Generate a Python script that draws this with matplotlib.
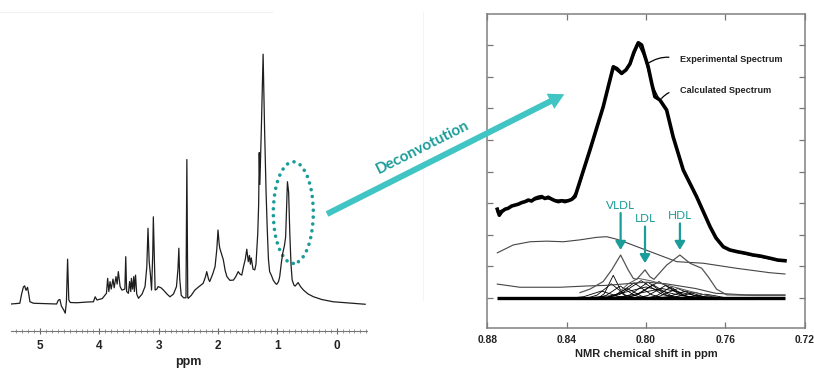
import matplotlib
matplotlib.use("Agg")
import matplotlib.pyplot as plt
from matplotlib.patches import Ellipse, FancyArrow

# ---------------- data: left 1H NMR spectrum (ppm, intensity) ----------------
LEFT_PPM = [5.49, 5.34, 5.31, 5.28, 5.26, 5.235, 5.21, 5.19, 5.17, 5.11, 4.72, 4.69, 4.665,
            4.64, 4.60, 4.575, 4.555, 4.535, 4.515, 4.49, 4.38, 4.20, 4.10, 4.07, 4.04, 3.95,
            3.88, 3.86, 3.84, 3.82, 3.80, 3.77, 3.75, 3.72, 3.70, 3.68, 3.65, 3.62, 3.57, 3.555,
            3.54, 3.51, 3.49, 3.47, 3.46, 3.44, 3.42, 3.41, 3.39, 3.37, 3.34, 3.28, 3.23, 3.20,
            3.18, 3.16, 3.14, 3.12, 3.10, 3.09, 3.075, 3.06, 3.03, 3.01, 2.96, 2.92, 2.86, 2.81,
            2.75, 2.70, 2.675, 2.66, 2.645, 2.62, 2.58, 2.54, 2.525, 2.51, 2.50, 2.45, 2.39,
            2.32, 2.25, 2.21, 2.19, 2.16, 2.14, 2.09, 2.05, 2.02, 2.00, 1.98, 1.97, 1.94, 1.91,
            1.88, 1.85, 1.80, 1.74, 1.70, 1.66, 1.63, 1.60, 1.57, 1.54, 1.515, 1.49, 1.47, 1.455,
            1.44, 1.41, 1.38, 1.36, 1.33, 1.315, 1.305, 1.295, 1.27, 1.24, 1.215, 1.19, 1.17,
            1.15, 1.13, 1.10, 1.07, 1.03, 1.01, 0.98, 0.96, 0.93, 0.91, 0.88, 0.86, 0.845, 0.83,
            0.81, 0.79, 0.77, 0.75, 0.72, 0.70, 0.67, 0.65, 0.61, 0.56, 0.48, 0.39, 0.25, 0.06,
            -0.20, -0.48]
LEFT_INT = [0.0, 0.3, 4.0, 6.8, 7.3, 5.5, 6.7, 4.0, 0.9, 0.3, 0.0, 1.6, 1.8,
            -0.8, -2.4, -3.7, 0.9, 18.0, 1.6, 0.6, 0.5, 0.8, 0.9, 2.9, 1.6, 2.2,
            4.3, 10.3, 5.0, 9.0, 6.0, 10.0, 6.5, 11.0, 8.0, 13.0, 7.0, 5.6, 6.0, 19.0,
            5.0, 4.3, 9.0, 5.0, 10.3, 6.0, 11.0, 5.0, 11.6, 4.0, 2.3, 4.0, 7.0, 15.0,
            30.4, 17.0, 12.0, 5.6, 20.0, 35.0, 20.0, 5.6, 6.0, 7.0, 6.5, 5.6, 4.0, 2.9,
            4.0, 7.0, 14.0, 22.4, 10.0, 3.5, 2.5, 2.5, 58.0, 2.5, 2.3, 3.5, 5.6,
            7.0, 8.3, 11.0, 13.0, 10.0, 9.0, 12.0, 15.0, 22.0, 29.7, 24.0, 22.4, 20.0, 17.7,
            13.5, 11.0, 9.5, 9.6, 11.0, 13.0, 12.0, 11.6, 15.0, 18.0, 22.0, 17.0, 19.5, 16.0,
            18.5, 14.0, 13.7, 16.0, 28.4, 40.0, 60.8, 48.0, 70.0, 100.3, 70.0, 45.0, 30.0,
            18.0, 13.0, 11.5, 9.6, 8.2, 7.9, 9.0, 11.0, 17.0, 20.3, 23.5, 27.0, 38.0, 49.1,
            45.0, 28.4, 16.0, 9.6, 7.6, 7.2, 8.0, 8.6, 7.0, 5.6, 4.0, 2.9, 1.8, 0.9,
            0.4, -0.1]
LEFT_TICKS = [5, 4, 3, 2, 1, 0]

# ---------------- data: right deconvolution panel ----------------
EXP_X = [0.8750, 0.8740, 0.8728, 0.8711, 0.8695, 0.8678, 0.8661, 0.8644, 0.8627, 0.8610,
         0.8594, 0.8577, 0.8560, 0.8543, 0.8526, 0.8510, 0.8493, 0.8476, 0.8459, 0.8442,
         0.8425, 0.8409, 0.8392, 0.8375, 0.8358, 0.8342, 0.8283, 0.8216, 0.8192, 0.8165,
         0.8146, 0.8123, 0.8101, 0.8081, 0.8061, 0.8039, 0.8022, 0.8005, 0.7989, 0.7971,
         0.7955, 0.7930, 0.7913, 0.7896, 0.7863, 0.7812, 0.7745, 0.7677, 0.7647, 0.7610,
         0.7577, 0.7543, 0.7501, 0.7459, 0.7425, 0.7375, 0.7335, 0.7299]
EXP_Y = [2.81, 2.62, 2.73, 2.81, 2.84, 2.91, 2.94, 2.97, 3.02, 3.05,
         3.10, 3.07, 3.15, 3.19, 3.21, 3.15, 3.19, 3.13, 3.08, 3.05,
         3.08, 3.05, 3.08, 3.12, 3.21, 3.52, 4.68, 6.05, 6.65, 7.32,
         7.26, 7.11, 7.22, 7.41, 7.78, 8.08, 8.01, 7.64, 7.32, 6.79,
         6.37, 6.27, 6.11, 5.95, 5.10, 4.05, 3.21, 2.26, 1.90, 1.62,
         1.52, 1.47, 1.42, 1.36, 1.33, 1.26, 1.20, 1.18]
CALC_X = [0.875, 0.868, 0.860, 0.852, 0.845, 0.838, 0.8342, 0.8283, 0.8216, 0.8165, 0.8123,
          0.8081, 0.8039, 0.8005, 0.7971, 0.7930, 0.7896, 0.7863, 0.7812, 0.7745, 0.7677,
          0.7610, 0.7543, 0.7459, 0.7375, 0.7299]
CALC_Y = [2.72, 2.90, 3.05, 3.16, 3.10, 3.10, 3.45, 4.66, 6.04, 7.28, 7.08,
          7.38, 8.04, 7.60, 6.76, 6.24, 5.92, 5.08, 4.03, 3.19, 2.24,
          1.60, 1.45, 1.34, 1.24, 1.16]
BROAD_X = [0.8750, 0.8669, 0.8585, 0.8501, 0.8417, 0.8333, 0.8249, 0.8198, 0.8148, 0.8098,
           0.7980, 0.7845, 0.7711, 0.7543, 0.7375, 0.7299]
BROAD_Y = [1.43, 1.68, 1.78, 1.80, 1.78, 1.84, 1.92, 1.94, 1.86, 1.75,
           1.47, 1.15, 1.10, 0.94, 0.80, 0.76]
LOW_X = [0.8750, 0.8636, 0.8434, 0.8299, 0.820, 0.810, 0.800, 0.790, 0.775, 0.765, 0.750, 0.7299]
LOW_Y = [0.44, 0.34, 0.34, 0.38, 0.40, 0.45, 0.50, 0.45, 0.30, 0.15, 0.10, 0.10]
LIPO_X = [0.8333, 0.8283, 0.8216, 0.8173, 0.8128, 0.8090, 0.8064, 0.8047, 0.8005, 0.7980,
          0.7960, 0.7896, 0.7829, 0.7778, 0.7719, 0.7686, 0.7644, 0.7593, 0.7450, 0.7299]
LIPO_Y = [0.17, 0.28, 0.52, 0.89, 1.36, 0.89, 0.62, 0.59, 0.89, 0.67,
          0.59, 1.04, 1.36, 1.10, 0.94, 0.67, 0.28, 0.10, 0.08, 0.08]
TAIL_X = [0.8133, 0.809, 0.804, 0.798, 0.792, 0.786, 0.780, 0.772, 0.765]
TAIL_Y = [0.20, 0.45, 0.62, 0.55, 0.45, 0.35, 0.25, 0.12, 0.05]
BASE_X = [0.8750, 0.7299]
BASE_Y = [0.0, 0.0]
COMP_X = [
    [.8090, .8120, .8140, .8165, .8190, .8210, .8240],
    [.8055, .8103, .8135, .8175, .8215, .8247, .8295],
    [.8010, .8058, .8090, .8130, .8170, .8202, .8250],
    [.7975, .8023, .8055, .8095, .8135, .8167, .8215],
    [.7910, .7970, .8010, .8060, .8110, .8150, .8210],
    [.7845, .7917, .7965, .8025, .8085, .8133, .8205],
    [.7840, .7900, .7940, .7990, .8040, .8080, .8140],
    [.7815, .7875, .7915, .7965, .8015, .8055, .8115],
    [.7755, .7827, .7875, .7935, .7995, .8043, .8115],
    [.7750, .7810, .7850, .7900, .7950, .7990, .8050],
    [.7755, .7803, .7835, .7875, .7915, .7947, .7995],
    [.7690, .7750, .7790, .7840, .7890, .7930, .7990],
    [.7650, .7710, .7750, .7800, .7850, .7890, .7950],
    [.7605, .7665, .7705, .7755, .7805, .7845, .7905],
    [.7550, .7610, .7650, .7700, .7750, .7790, .7850],
    [.8075, .8135, .8175, .8225, .8275, .8315, .8375],
    [.7700, .7820, .7900, .8000, .8100, .8180, .8300],
    [.7620, .7740, .7820, .7920, .8020, .8100, .8220],
]
COMP_Y = [
    [0, .14, .40, .72, .40, .14, 0],
    [0, .09, .25, .45, .25, .09, 0],
    [0, .08, .21, .38, .21, .08, 0],
    [0, .06, .17, .30, .17, .06, 0],
    [0, .10, .26, .48, .26, .10, 0],
    [0, .11, .30, .55, .30, .11, 0],
    [0, .10, .28, .50, .28, .10, 0],
    [0, .08, .23, .42, .23, .08, 0],
    [0, .10, .29, .52, .29, .10, 0],
    [0, .08, .22, .40, .22, .08, 0],
    [0, .07, .19, .35, .19, .07, 0],
    [0, .06, .17, .30, .17, .06, 0],
    [0, .04, .12, .22, .12, .04, 0],
    [0, .04, .10, .18, .10, .04, 0],
    [0, .02, .07, .12, .07, .02, 0],
    [0, .04, .12, .22, .12, .04, 0],
    [0, .07, .19, .35, .19, .07, 0],
    [0, .06, .17, .30, .17, .06, 0],
]
LIPO_NAMES = ["VLDL", "LDL", "HDL"]
LIPO_POS = [0.8128, 0.8005, 0.7829]
LIPO_ARROW_TOP = [2.69, 2.26, 2.36]
LIPO_ARROW_TIP = [1.52, 1.10, 1.52]
RIGHT_TICKS = [0.88, 0.84, 0.80, 0.76, 0.72]
RIGHT_TICKLABELS = ["0.88", "0.84", "0.80", "0.76", "0.72"]

TEAL = "#1a9c99"
ARROW_TEAL = "#40c4c4"
W, H = 814, 374

fig = plt.figure(figsize=(W / 100, H / 100), dpi=100)
fig.patch.set_facecolor("white")

# faint frame remnants from the original composite
bg = fig.add_axes([0, 0, 1, 1], zorder=-5)
bg.set_xlim(0, W); bg.set_ylim(H, 0); bg.axis("off")
bg.plot([0, 272], [12, 12], color="#f1f1f1", lw=0.8)
bg.plot([423, 423], [12, 300], color="#f4f4f4", lw=0.8)

# ---------------- left panel ----------------
axL = fig.add_axes([10.7 / W, (H - 331) / H, 356 / W, 291 / H])
axL.plot(LEFT_PPM, LEFT_INT, color="#1e1e1e", lw=0.9)
axL.set_xlim(5.494, -0.506)
axL.set_ylim(-10.84, 106)
for s in ("left", "right", "top"):
    axL.spines[s].set_visible(False)
axL.spines["bottom"].set_color("#777777")
axL.spines["bottom"].set_linewidth(0.8)
axL.set_yticks([])
axL.set_xticks(LEFT_TICKS)
axL.set_xticklabels([str(t) for t in LEFT_TICKS], fontfamily="Liberation Sans",
                    fontweight="bold", fontsize=8.5, color="#222222")
axL.set_xticks([x / 10 for x in range(-5, 55)], minor=True)
axL.tick_params(axis="x", which="major", direction="inout", length=5, width=0.8,
                color="#666666", pad=4)
axL.tick_params(axis="x", which="minor", direction="inout", length=2.5, width=0.6,
                color="#888888")
axL.set_xlabel("ppm", fontfamily="Liberation Sans", fontweight="bold", fontsize=9,
               color="#222222", labelpad=3)
axL.patch.set_alpha(0)

ell = Ellipse((0.731, 36.7), 0.674, 40.8, fill=False, edgecolor=TEAL, lw=2.6,
              linestyle=(0, (0.01, 1.9)), clip_on=False)
ell.set_capstyle("round")
axL.add_patch(ell)

# ---------------- right panel ----------------
axR = fig.add_axes([487.4 / W, (H - 328) / H, 317.2 / W, 314 / H])
for cx, cy in zip(COMP_X, COMP_Y):
    axR.plot(cx, cy, color="black", lw=0.6)
axR.plot(BASE_X, BASE_Y, color="black", lw=2.4, solid_capstyle="butt")
axR.plot(BROAD_X, BROAD_Y, color="#444444", lw=0.8)
axR.plot(LOW_X, LOW_Y, color="#444444", lw=0.8)
axR.plot(TAIL_X, TAIL_Y, color="#555555", lw=0.7)
axR.plot(LIPO_X, LIPO_Y, color="#555555", lw=0.9)
axR.plot(EXP_X, EXP_Y, color="black", lw=2.6, solid_joinstyle="round")
axR.plot(CALC_X, CALC_Y, color="black", lw=1.0)

axR.set_xlim(0.88, 0.72)
axR.set_ylim(-0.95, 8.99)
axR.set_yticks(range(0, 9))
axR.set_yticklabels([])
axR.set_xticks(RIGHT_TICKS)
axR.set_xticklabels(RIGHT_TICKLABELS, fontfamily="Liberation Sans", fontweight="bold",
                    fontsize=7.4, color="#222222")
axR.tick_params(axis="both", direction="in", length=4, width=0.9, color="#777777",
                top=True, right=True, pad=5)
for s in axR.spines.values():
    s.set_color("#808080")
    s.set_linewidth(1.1)
axR.set_xlabel("NMR chemical shift in ppm", fontfamily="Liberation Sans",
               fontweight="bold", fontsize=8, color="#222222", labelpad=3)

for name, xp, ytop, ytip in zip(LIPO_NAMES, LIPO_POS, LIPO_ARROW_TOP, LIPO_ARROW_TIP):
    axR.annotate("", xy=(xp, ytip), xytext=(xp, ytop),
                 arrowprops=dict(arrowstyle="-|>,head_length=0.5,head_width=0.3",
                                 color=TEAL, lw=1.6, shrinkA=0, shrinkB=0))
    axR.text(xp, ytop + 0.07, name, ha="center", va="bottom", color=TEAL,
             fontfamily="Lato", fontsize=8.5)

for label, pt, tx in (("Experimental Spectrum", (0.7989, 7.43), (0.7829, 7.55)),
                      ("Calculated Spectrum", (0.7921, 6.32), (0.7829, 6.56))):
    axR.annotate(label, xy=pt, xytext=tx, ha="left", va="center",
                 fontfamily="Liberation Sans", fontweight="bold", fontsize=6.6,
                 color="#222222",
                 arrowprops=dict(arrowstyle="-", color="black", lw=0.9,
                                 shrinkA=6, shrinkB=0, relpos=(0, 0.5),
                                 connectionstyle="arc3,rad=0.25"))

# ---------------- overlay: big arrow and label ----------------
ov = fig.add_axes([0, 0, 1, 1], zorder=10)
ov.set_xlim(0, W); ov.set_ylim(H, 0); ov.axis("off")
ov.patch.set_alpha(0)
ov.add_patch(FancyArrow(327, 214, 563 - 327 - 14 * 0.894, 95 - 214 + 14 * 0.447,
                        width=6, head_width=17, head_length=15.5,
                        length_includes_head=False, color=ARROW_TEAL, lw=0))
ov.text(423, 147, "Deconvotution", rotation=26.7, rotation_mode="anchor",
        ha="center", va="center", color=TEAL, fontfamily="Lato", fontweight="bold",
        fontsize=11)

fig.savefig("out.png", dpi=100, facecolor="white")
